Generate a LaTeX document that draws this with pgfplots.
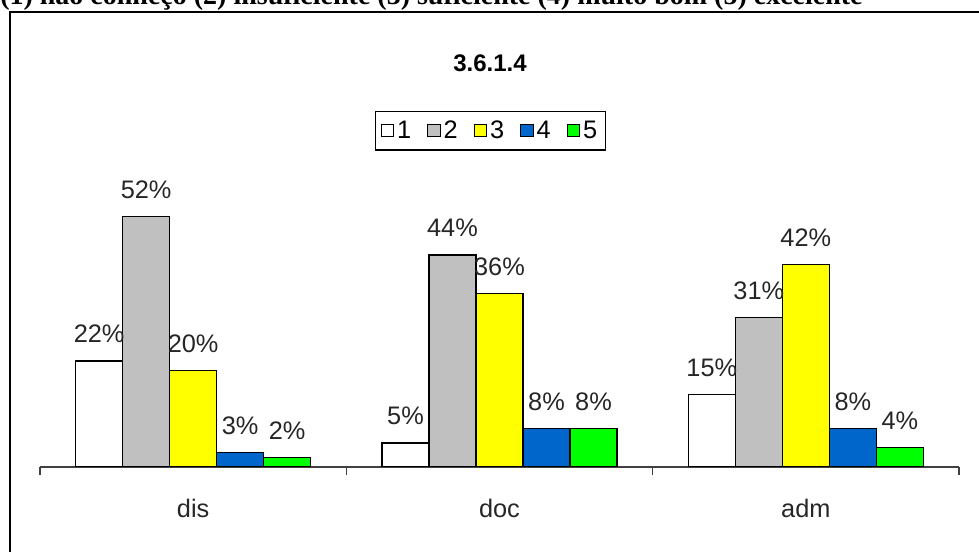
\documentclass[border=0pt]{standalone}
\usepackage{pgfplots}
\pgfplotsset{compat=1.18}
\usepackage{fontspec}
\setmainfont{Liberation Sans}
\newfontfamily\seriffont{Liberation Serif}
\definecolor{cgray}{HTML}{C0C0C0}
\definecolor{cyellow}{HTML}{FFFF00}
\definecolor{cblue}{HTML}{0066CC}
\definecolor{cgreen}{HTML}{00FF00}
\begin{document}
\begin{tikzpicture}
\useasboundingbox (0,0) rectangle (734.25pt,414pt);
\node[anchor=base west, inner sep=0pt, font=\seriffont\bfseries\fontsize{21}{24}\selectfont] at (0pt,410.25pt)
  {(1) não conheço (2) insuficiente (3) suficiente (4) muito bom (5) excelente};
\draw[line width=1.5pt] (7.5pt,-20pt) rectangle (760pt,405pt);
\node[font=\bfseries\fontsize{18}{22}\selectfont] at (367.5pt,366.75pt) {3.6.1.4};
\begin{axis}[
  at={(30pt,63.75pt)}, anchor=south west,
  scale only axis, width=689.25pt, height=216.75pt,
  xmin=-0.5, xmax=2.5, ymin=0, ymax=60,
  axis y line=none, axis x line*=bottom,
  x axis line style={line width=0.9pt, color=black!75},
  ybar=0pt, bar width=35.25pt,
  xtick={0,1,2}, xticklabels={dis,doc,adm},
  major x tick style={draw=none},
  minor xtick={-0.5,0.5,1.5,2.5},
  minor x tick style={line width=0.9pt, color=black!75},
  minor tick length=6pt, tick align=outside,
  xticklabel style={anchor=north, inner sep=0pt, yshift=-20pt, font=\fontsize{19}{22}\selectfont, text=black!85},
  /pgf/number format/assume math mode=true,
  every axis plot/.append style={draw=black, line width=1.1pt},
  nodes near coords={\pgfmathprintnumber{\pgfplotspointmeta}\%},
  nodes near coords style={anchor=south, inner sep=0pt, yshift=13pt, font=\fontsize{19}{22}\selectfont, text=black!85},
  legend columns=5,
  legend style={at={(0.490,1.163)}, anchor=center, draw=black, line width=1pt,
    font=\fontsize{19}{22}\selectfont, inner xsep=4pt, inner ysep=5pt,
    /tikz/every even column/.append style={column sep=10pt}},
  legend image code/.code={\draw[#1, line width=0.8pt] (0pt,-4.5pt) rectangle (9.5pt,5pt);},
]
\addplot[fill=white] coordinates {(0,22) (1,5) (2,15)};
\addplot[fill=cgray] coordinates {(0,52) (1,44) (2,31)};
\addplot[fill=cyellow] coordinates {(0,20) (1,36) (2,42)};
\addplot[fill=cblue] coordinates {(0,3) (1,8) (2,8)};
\addplot[fill=cgreen] coordinates {(0,2) (1,8) (2,4)};
\legend{1,2,3,4,5}
\end{axis}
\end{tikzpicture}
\end{document}
